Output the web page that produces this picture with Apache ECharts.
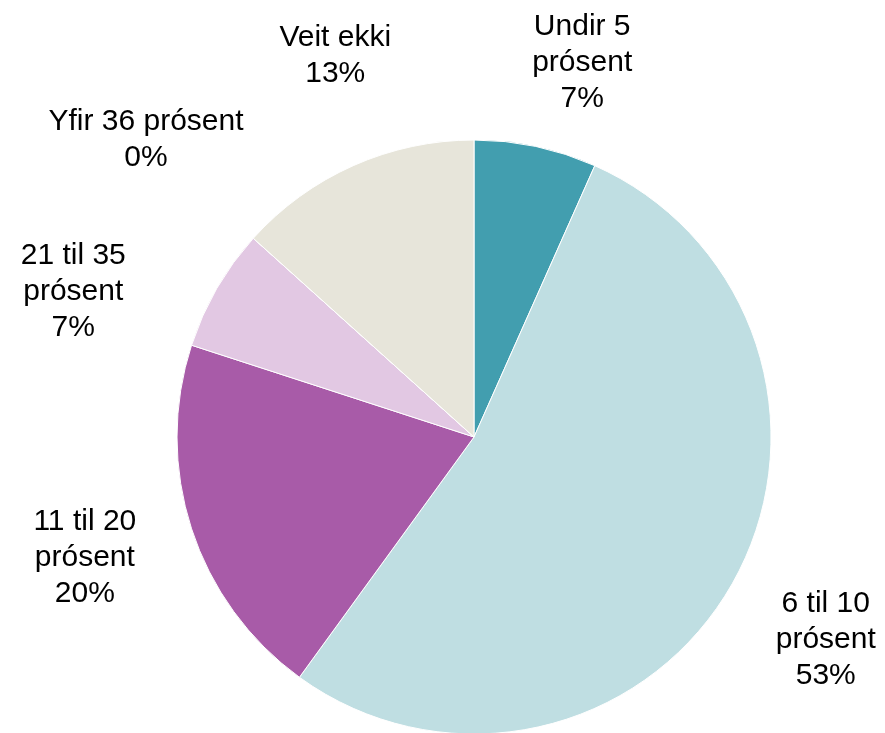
<!DOCTYPE html>
<html>
<head>
<meta charset="utf-8">
<script src="https://cdn.jsdelivr.net/npm/echarts@6/dist/echarts.min.js"></script>
<style>
html,body{margin:0;padding:0;background:#fff;}
#chart{width:885px;height:733px;}
</style>
</head>
<body>
<div id="chart"></div>
<script>
// Data
var categories = ['Undir 5\nprósent', '6 til 10\nprósent', '11 til 20\nprósent', '21 til 35\nprósent', 'Yfir 36 prósent', 'Veit ekki'];
var values = [1, 8, 3, 1, 0, 2];
var colors = ['#429EAF', '#BFDEE2', '#A85BA8', '#E2C8E3', '#C9A3C9', '#E7E5DA'];

// Layout settings
var cx = 474, cy = 437, pieRadius = 297, labelRadius = 405;
var labelNudge = [[24, 22], [1, 0], [-4, -4], [-50, 57], [-27, -26], [26, -11]];

var total = values.reduce(function (a, b) { return a + b; }, 0);
var midAngles = [];
var acc = 0;
for (var i = 0; i < values.length; i++) {
  midAngles.push((acc + values[i] / 2) / total * 2 * Math.PI);
  acc += values[i];
}

var chart = echarts.init(document.getElementById('chart'), null, {renderer: 'canvas'});
chart.setOption({
  animation: false,
  backgroundColor: '#ffffff',
  series: [{
    type: 'pie',
    center: [cx, cy],
    radius: pieRadius,
    startAngle: 90,
    clockwise: true,
    minShowLabelAngle: -1,
    avoidLabelOverlap: false,
    itemStyle: {borderColor: '#ffffff', borderWidth: 1},
    label: {
      show: true,
      position: 'outside',
      fontFamily: '"Liberation Sans", Arial, sans-serif',
      fontSize: 30,
      lineHeight: 36,
      color: '#000000',
      align: 'center',
      formatter: function (p) {
        return p.name + '\n' + Math.round(p.percent) + '%';
      }
    },
    labelLine: {show: false},
    labelLayout: function (p) {
      var a = midAngles[p.dataIndex];
      var n = labelNudge[p.dataIndex];
      return {
        x: cx + labelRadius * Math.sin(a) + n[0],
        y: cy - labelRadius * Math.cos(a) + n[1],
        align: 'center',
        verticalAlign: 'middle'
      };
    },
    data: categories.map(function (c, i) {
      return {name: c, value: values[i], itemStyle: {color: colors[i]}};
    })
  }]
});
</script>
</body>
</html>
